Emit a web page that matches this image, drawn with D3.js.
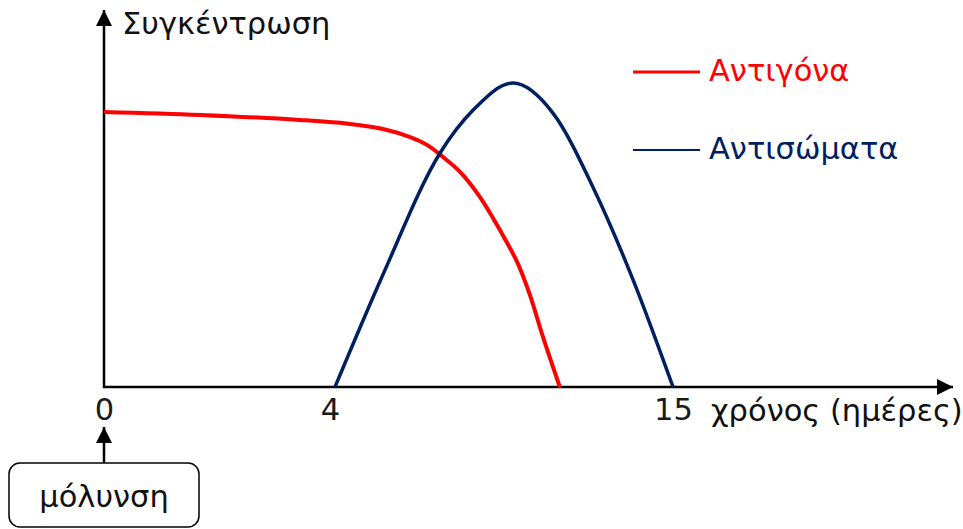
<!DOCTYPE html>
<html><head><meta charset="utf-8">
<script src="https://cdn.jsdelivr.net/npm/d3@7"></script>
<style>
html,body{margin:0;padding:0;background:#fff;}
svg{display:block;}
text{font-family:"DejaVu Sans",sans-serif;}
</style></head>
<body>
<svg id="chart" width="963" height="529"></svg>
<script>
// Schematic data (x in days, y in arbitrary concentration units)
const antigenDays   = [0, 1.70, 3.47, 4.64, 5.70, 6.57, 7.11, 7.62, 8.17, 8.81, 9.45, 10.0, 10.41, 10.83, 11.37];
const antigenValues = [9.17, 9.07, 8.9, 8.77, 8.6, 8.33, 8.07, 7.67, 7.17, 6.33, 5.23, 4.17, 3.07, 1.67, 0];
const antibodyDays   = [4.16, 5.70, 7.53, 8.59, 9.87, 11.15, 12.43, 13.72, 15.0];
const antibodyValues = [0, 3.75, 7.8, 9.23, 10.13, 9.13, 6.67, 3.57, 0];
const tickValues = [0, 4, 15];
const tickLabels = ["0", "4", "15"];
const seriesNames = ["Αντιγόνα", "Αντισώματα"];
const seriesColors = ["#ff0000", "#002060"];
const yTitle = "Συγκέντρωση";
const xTitle = "χρόνος (ημέρες)";
const eventLabel = "μόλυνση";

const FS = 30.5;
const svg = d3.select("#chart");
// non-uniform (schematic) time axis
const x = d3.scaleLinear().domain([0, 4, 15]).range([104, 330, 673]);
const y = d3.scaleLinear().domain([0, 10]).range([387, 87]);

const defs = svg.append("defs");
defs.append("marker").attr("id", "arr").attr("viewBox", "0 0 10 10")
  .attr("refX", 10).attr("refY", 5).attr("markerWidth", 16).attr("markerHeight", 16)
  .attr("markerUnits", "userSpaceOnUse").attr("orient", "auto")
  .append("path").attr("d", "M0,0 L10,5 L0,10 Z").attr("fill", "#000");

// axes lines with arrows
svg.append("line").attr("x1", 104).attr("y1", 388).attr("x2", 104).attr("y2", 10)
  .attr("stroke", "#000").attr("stroke-width", 2.5).attr("marker-end", "url(#arr)");
svg.append("line").attr("x1", 103).attr("y1", 387).attr("x2", 953).attr("y2", 387)
  .attr("stroke", "#000").attr("stroke-width", 2.5).attr("marker-end", "url(#arr)");

// tick labels via d3 axis
const ax = svg.append("g").attr("transform", "translate(0,387)")
  .call(d3.axisBottom(x).tickValues(tickValues).tickSize(0).tickPadding(11)
    .tickFormat((d, i) => tickLabels[i]));
ax.select(".domain").remove();
ax.selectAll("text").attr("font-size", FS).attr("fill", "#1a1a1a")
  .attr("font-family", "DejaVu Sans, sans-serif");

// titles
svg.append("text").attr("x", 122).attr("y", 34).attr("font-size", FS)
  .attr("fill", "#111").text(yTitle);
svg.append("text").attr("x", 711).attr("y", 421).attr("font-size", FS)
  .attr("fill", "#111").text(xTitle);

// curves
const redLine = d3.line().x(d => x(d[0])).y(d => y(d[1])).curve(d3.curveCatmullRom.alpha(0.5));
const blueLine = d3.line().x(d => x(d[0])).y(d => y(d[1])).curve(d3.curveMonotoneX);
svg.append("path").datum(antigenDays.map((d, i) => [d, antigenValues[i]]))
  .attr("d", redLine).attr("fill", "none").attr("stroke", seriesColors[0]).attr("stroke-width", 4);
svg.append("path").datum(antibodyDays.map((d, i) => [d, antibodyValues[i]]))
  .attr("d", blueLine).attr("fill", "none").attr("stroke", seriesColors[1]).attr("stroke-width", 3.5);

// legend
const legY = [72, 150];
seriesNames.forEach((n, i) => {
  svg.append("line").attr("x1", 633).attr("x2", 700).attr("y1", legY[i]).attr("y2", legY[i])
    .attr("stroke", seriesColors[i]).attr("stroke-width", i === 0 ? 3 : 2);
  svg.append("text").attr("x", 709).attr("y", legY[i] + 9).attr("font-size", FS)
    .attr("fill", seriesColors[i]).text(n);
});

// infection marker
svg.append("line").attr("x1", 104).attr("x2", 104).attr("y1", 463).attr("y2", 427)
  .attr("stroke", "#000").attr("stroke-width", 2.5).attr("marker-end", "url(#arr)");
svg.append("rect").attr("x", 9).attr("y", 463).attr("width", 190).attr("height", 64)
  .attr("rx", 11).attr("fill", "#fff").attr("stroke", "#000").attr("stroke-width", 1.5);
svg.append("text").attr("x", 104).attr("y", 507).attr("text-anchor", "middle")
  .attr("font-size", FS).attr("fill", "#111").text(eventLabel);
</script>
</body></html>
